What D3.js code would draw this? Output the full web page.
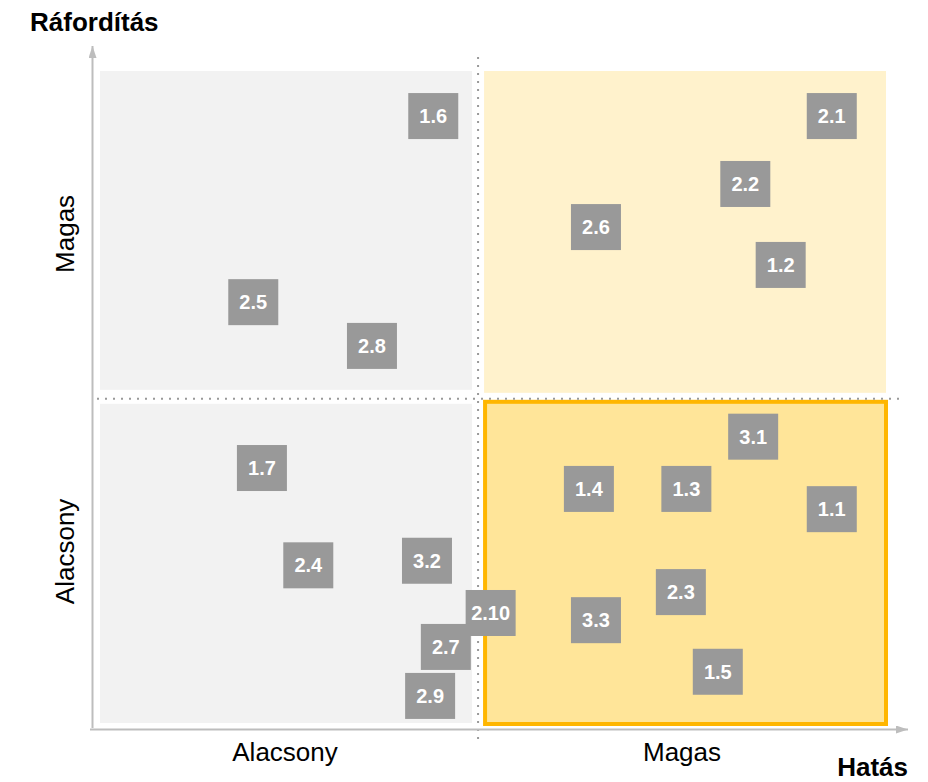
<!DOCTYPE html>
<html>
<head>
<meta charset="utf-8">
<script src="https://cdn.jsdelivr.net/npm/d3@7"></script>
<style>
  body { margin: 0; background: #fff; }
  svg { display: block; font-family: "Liberation Sans", Arial, sans-serif; }
</style>
</head>
<body>
<div id="chart"></div>
<script>
// items: label, impact (hatás), effort (ráfordítás), both 0-100
var labels  = ["1.6", "2.1", "2.2", "2.6", "1.2", "2.5", "2.8", "3.1", "1.7", "1.4",
               "1.3", "1.1", "3.2", "2.4", "2.3", "2.10", "3.3", "2.7", "1.5", "2.9"];
var impact  = [42.4, 93.1, 82.1, 63.1, 86.6, 19.5, 34.6, 83.1, 20.6, 62.2,
               74.6, 93.1, 41.6, 26.5, 73.9, 49.7, 63.1, 44.0, 78.6, 42.0];
var effort  = [93.1, 93.1, 82.7, 76.1, 70.3, 64.6, 57.9, 44.0, 39.2, 36.0,
               36.0, 32.9, 25.0, 24.3, 20.2, 17.0, 15.9, 11.8, 8.0, 4.3];
var splitX = 48.1, splitY = 49.8;
var levelLabels = ["Alacsony", "Magas"];

var W = 928, H = 782;
var svg = d3.select("#chart").append("svg")
    .attr("width", W)
    .attr("height", H);

var x = d3.scaleLinear().domain([0, 100]).range([100, 886]);
var y = d3.scaleLinear().domain([0, 100]).range([724, 71]);

var defs = svg.append("defs");
defs.append("marker")
    .attr("id", "arrow")
    .attr("viewBox", "0 0 12 8")
    .attr("refX", 12).attr("refY", 4)
    .attr("markerWidth", 12).attr("markerHeight", 8)
    .attr("markerUnits", "userSpaceOnUse")
    .attr("orient", "auto")
  .append("path")
    .attr("d", "M0,0L12,4L0,8Z")
    .attr("fill", "#bdbdbd");

// quadrants
var mx = x(splitX), my = y(splitY);
svg.append("rect")
    .attr("x", x(0)).attr("y", y(100))
    .attr("width", mx - 6 - x(0)).attr("height", my - 9 - y(100))
    .attr("fill", "#f2f2f2");
svg.append("rect")
    .attr("x", x(0)).attr("y", my + 5)
    .attr("width", mx - 6 - x(0)).attr("height", y(0) - 1 - (my + 5))
    .attr("fill", "#f2f2f2");
svg.append("rect")
    .attr("x", mx + 6).attr("y", y(100))
    .attr("width", x(100) - (mx + 6)).attr("height", my - 6 - y(100))
    .attr("fill", "#fff2cc");
svg.append("rect")
    .attr("x", mx + 7).attr("y", my + 3)
    .attr("width", x(100) - (mx + 7)).attr("height", y(0) - (my + 3))
    .attr("fill", "#ffe599")
    .attr("stroke", "#ffb600")
    .attr("stroke-width", 4);

// dotted dividers
svg.append("line")
    .attr("x1", mx).attr("x2", mx)
    .attr("y1", 57).attr("y2", 739)
    .attr("stroke", "#999").attr("stroke-width", 2)
    .attr("stroke-dasharray", "2 6");
svg.append("line")
    .attr("x1", 97).attr("x2", 901)
    .attr("y1", my).attr("y2", my)
    .attr("stroke", "#999").attr("stroke-width", 2)
    .attr("stroke-dasharray", "2 6");

// axes
svg.append("line")
    .attr("x1", 92.5).attr("x2", 92.5)
    .attr("y1", 728).attr("y2", 46)
    .attr("stroke", "#bdbdbd").attr("stroke-width", 2)
    .attr("marker-end", "url(#arrow)");
svg.append("line")
    .attr("x1", 90).attr("x2", 908)
    .attr("y1", 729.5).attr("y2", 729.5)
    .attr("stroke", "#bdbdbd").attr("stroke-width", 2)
    .attr("marker-end", "url(#arrow)");

// axis titles
svg.append("text")
    .attr("x", 30).attr("y", 31)
    .attr("font-size", 26).attr("font-weight", "bold")
    .attr("fill", "#000")
    .text("Ráfordítás");
svg.append("text")
    .attr("x", 908).attr("y", 776)
    .attr("text-anchor", "end")
    .attr("font-size", 26).attr("font-weight", "bold")
    .attr("fill", "#000")
    .text("Hatás");

// level labels
svg.selectAll(".xl")
    .data(levelLabels)
  .enter().append("text")
    .attr("class", "xl")
    .attr("x", function(d, i) { return i == 0 ? (x(0) + mx) / 2 - 4 : (mx + x(100)) / 2 });
svg.selectAll(".xl")
    .attr("y", 761)
    .attr("text-anchor", "middle")
    .attr("font-size", 26)
    .attr("fill", "#000")
    .text(function(d) { return d; });

svg.selectAll(".yl")
    .data(levelLabels)
  .enter().append("text")
    .attr("class", "yl")
    .attr("transform", function(d, i) {
        var cy = i == 0 ? (my + y(0)) / 2 - 10 : (y(100) + my) / 2 - 1;
        return "translate(74," + cy + ") rotate(-90)";
    })
    .attr("text-anchor", "middle")
    .attr("font-size", 26)
    .attr("fill", "#000")
    .text(function(d) { return d; });

// item boxes
var items = labels.map(function(l, i) { return { label: l, impact: impact[i], effort: effort[i] }; });
var g = svg.selectAll(".item")
    .data(items)
  .enter().append("g")
    .attr("class", "item")
    .attr("transform", function(d) { return "translate(" + x(d.impact) + "," + y(d.effort) + ")"; });
g.append("rect")
    .attr("x", -25).attr("y", -23)
    .attr("width", 50).attr("height", 46)
    .attr("fill", "#999999");
g.append("text")
    .attr("text-anchor", "middle")
    .attr("y", 7)
    .attr("font-size", 20).attr("font-weight", "bold")
    .attr("fill", "#fff")
    .text(function(d) { return d.label; });
</script>
</body>
</html>
